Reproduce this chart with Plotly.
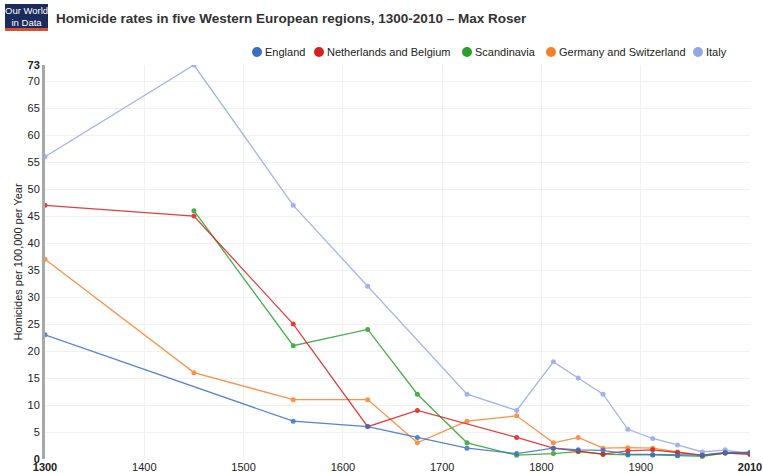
import plotly.graph_objects as go

england_years = [1300, 1550, 1625, 1675, 1725, 1775, 1812, 1837, 1862, 1887, 1912, 1937, 1962, 1985, 2010]
england = [23, 7, 6, 4, 2, 1.0, 2.0, 1.7, 1.6, 0.9, 0.8, 0.7, 0.7, 1.2, 1.2]

neth_years = [1300, 1450, 1550, 1625, 1675, 1775, 1812, 1837, 1862, 1887, 1912, 1937, 1962, 1985, 2010]
netherlands = [47, 45, 25, 6, 9, 4, 2, 1.5, 0.9, 1.5, 1.7, 1.2, 0.7, 1.1, 0.9]

scand_years = [1450, 1550, 1625, 1675, 1725, 1775, 1812, 1837, 1862, 1887, 1912, 1937, 1962, 1985, 2010]
scandinavia = [46, 21, 24, 12, 3, 0.7, 1.0, 1.35, 0.9, 0.75, 0.75, 0.6, 0.5, 1.1, 1.2]

germ_years = [1300, 1450, 1550, 1625, 1675, 1725, 1775, 1812, 1837, 1862, 1887, 1912, 1937, 1962, 1985, 2010]
germany = [37, 16, 11, 11, 3, 7, 8, 3, 4, 2, 2.1, 2.0, 1.3, 0.6, 1.1, 0.9]

italy_years = [1300, 1450, 1550, 1625, 1725, 1775, 1812, 1837, 1862, 1887, 1912, 1937, 1962, 1985, 2010]
italy = [56, 73, 47, 32, 12, 9, 18, 15, 12, 5.5, 3.8, 2.6, 1.3, 1.7, 0.9]

series_names = ["England", "Netherlands and Belgium", "Scandinavia", "Germany and Switzerland", "Italy"]
series_x = [england_years, neth_years, scand_years, germ_years, italy_years]
series_y = [england, netherlands, scandinavia, germany, italy]
colors = ["#3a6fc4", "#d62020", "#2ca02c", "#f7812a", "#91a8e6"]

x_tickvals = [1300, 1400, 1500, 1600, 1700, 1800, 1900, 2010]
x_ticktext = ["<b>1300</b>", "1400", "1500", "1600", "1700", "1800", "1900", "<b>2010</b>"]
y_tickvals = [0, 5, 10, 15, 20, 25, 30, 35, 40, 45, 50, 55, 60, 65, 70, 73]
y_ticktext = ["<b>0</b>", "5", "10", "15", "20", "25", "30", "35", "40", "45", "50", "55", "60", "65", "70", "<b>73</b>"]

W, H = 763, 473
ML, MR, MT, MB = 45, 13, 65, 14
PW, PH = W - ML - MR, H - MT - MB


def px_x(px):
    return (px - ML) / PW


def px_y(py):
    return (H - MB - py) / PH


fig = go.Figure()

for i in [4, 3, 2, 1, 0]:
    fig.add_trace(go.Scatter(
        x=series_x[i], y=series_y[i], mode="lines+markers", name=series_names[i],
        line=dict(color=colors[i], width=1.3), marker=dict(color=colors[i], size=5),
        opacity=0.85, showlegend=False, hoverinfo="x+y+name"))

fig.update_layout(
    width=W, height=H,
    margin=dict(l=ML, r=MR, t=MT, b=MB),
    paper_bgcolor="white", plot_bgcolor="white",
    font=dict(family="Liberation Sans, Arial, sans-serif", size=11, color="#222"),
    showlegend=False,
    xaxis=dict(range=[1300, 2010], tickvals=x_tickvals, ticktext=x_ticktext,
               showgrid=True, gridcolor="#f1f1f1", zeroline=False, showline=False,
               ticks="", tickfont=dict(size=11, color="#222"), automargin=False),
    yaxis=dict(range=[0, 73], tickvals=y_tickvals, ticktext=y_ticktext,
               showgrid=True, gridcolor="#f1f1f1", zeroline=False,
               showline=True, linecolor="#a8a8a8", linewidth=3,
               ticks="", tickfont=dict(size=11, color="#222"), automargin=False,
               title=dict(text="Homicides per 100,000 per Year", font=dict(size=11, color="#222"), standoff=3)),
)

# Legend (manual)
legend_circle_x = [257, 319, 467, 551, 698]
legend_y = 52
for i in range(5):
    fig.add_shape(type="circle", xref="paper", yref="paper",
                  xsizemode="pixel", ysizemode="pixel",
                  xanchor=px_x(legend_circle_x[i]), yanchor=px_y(legend_y),
                  x0=-5, x1=5, y0=-5, y1=5,
                  fillcolor=colors[i], line=dict(width=0))
    fig.add_annotation(text=series_names[i], xref="paper", yref="paper",
                       x=px_x(legend_circle_x[i] + 6), y=px_y(legend_y),
                       xanchor="left", yanchor="middle", showarrow=False,
                       font=dict(size=11, color="#222"))

# Title
fig.add_annotation(text="<b>Homicide rates in five Western European regions, 1300-2010 – Max Roser</b>",
                   xref="paper", yref="paper", x=px_x(54), y=px_y(19),
                   xanchor="left", yanchor="middle", showarrow=False,
                   font=dict(size=13.5, color="#333"))

# Logo
fig.add_shape(type="rect", xref="paper", yref="paper",
              x0=px_x(5), x1=px_x(48), y0=px_y(28), y1=px_y(4),
              fillcolor="#1a2b5c", line=dict(width=0), layer="above")
fig.add_shape(type="rect", xref="paper", yref="paper",
              x0=px_x(5), x1=px_x(48), y0=px_y(31), y1=px_y(28),
              fillcolor="#d9502c", line=dict(width=0), layer="above")
fig.add_annotation(text="Our World<br>in Data", xref="paper", yref="paper",
                   x=px_x(26.5), y=px_y(16), xanchor="center", yanchor="middle",
                   showarrow=False, align="center",
                   font=dict(family="Liberation Sans Narrow, Liberation Sans, Arial", size=9.5, color="white"))

fig.write_html("out.html", config={"displayModeBar": False},
               post_script="document.body.style.margin='0';")
